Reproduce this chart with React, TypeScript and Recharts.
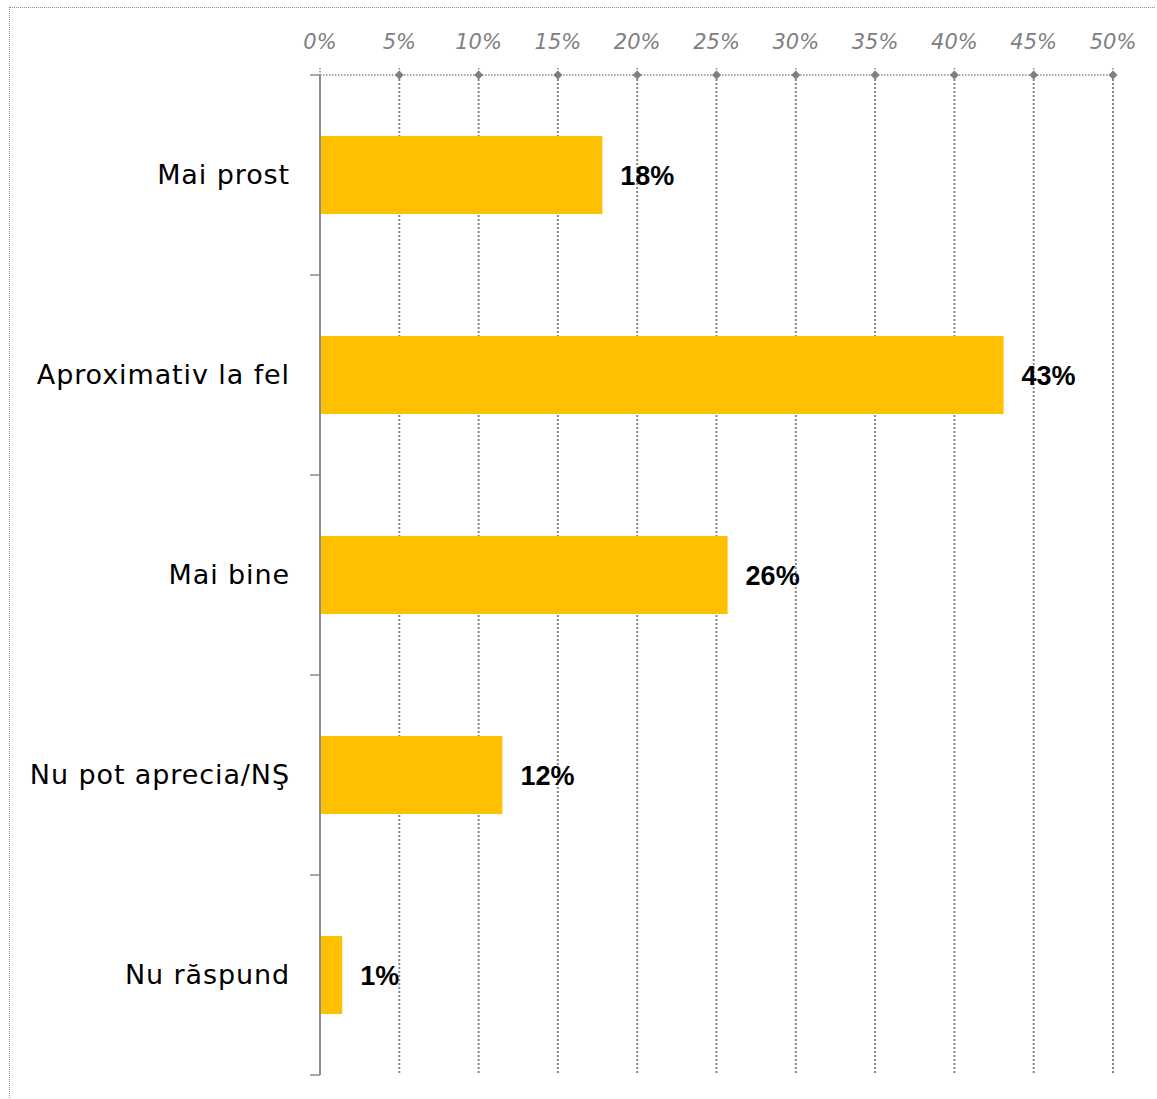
import React from "react";
import { BarChart, Bar, XAxis, YAxis, CartesianGrid, LabelList } from "recharts";

const CATEGORIES = ["Mai prost", "Aproximativ la fel", "Mai bine", "Nu pot aprecia/NŞ", "Nu răspund"];
const VALUES = [17.8, 43.1, 25.7, 11.5, 1.4];
const VALUE_LABELS = ["18%", "43%", "26%", "12%", "1%"];
const X_TICKS = [0, 5, 10, 15, 20, 25, 30, 35, 40, 45, 50];

const data = CATEGORIES.map((name, i) => ({ name, value: VALUES[i], label: VALUE_LABELS[i] }));

const GREY = "#8c8c8c";

// top axis tick: little dotted stub, diamond marker, italic label
const TopTick = (props: any) => {
  const { x, y, payload } = props;
  const v = payload.value;
  return (
    <g>
      <line x1={x} x2={x} y1={y - 7} y2={y} stroke={GREY} strokeWidth={1.5} strokeDasharray="1.5 1.5" />
      {v > 0 && (
        <path d={`M${x} ${y - 4.5}L${x + 4.5} ${y}L${x} ${y + 4.5}L${x - 4.5} ${y}Z`} fill="#7f7f7f" />
      )}
      <text x={x} y={y - 26} textAnchor="middle" fill="#808080"
        style={{ fontFamily: "DejaVu Sans", fontSize: 21, fontStyle: "italic" }}>
        {v}%
      </text>
    </g>
  );
};

// category label + tick marks at band edges
const LeftTick = (props: any) => {
  const { x, y, payload, index } = props;
  const half = 100;
  return (
    <g>
      <line x1={x + 20} x2={x + 30} y1={y - half} y2={y - half} stroke={GREY} strokeWidth={1.5} />
      {index === CATEGORIES.length - 1 && (
        <line x1={x + 20} x2={x + 30} y1={y + half} y2={y + half} stroke={GREY} strokeWidth={1.5} />
      )}
      <text x={x} y={y} dy={9} textAnchor="end" fill="#000"
        style={{ fontFamily: "DejaVu Sans", fontSize: 27, letterSpacing: 0.9 }}>
        {payload.value}
      </text>
    </g>
  );
};

export default function App() {
  return (
    <div style={{
      position: "absolute", left: 9, top: 7, width: 1146, height: 1091,
      boxSizing: "border-box", borderTop: `1px dotted ${GREY}`, borderLeft: `1px dotted ${GREY}`,
      background: "#fff",
    }}>
      <BarChart width={1145} height={1090} data={data} layout="vertical"
        margin={{ top: 0, right: 42, bottom: 23, left: 0 }}>
        <CartesianGrid horizontal={false} stroke="#858585" strokeWidth={2} strokeDasharray="2 2" />
        <XAxis type="number" orientation="top" domain={[0, 50]} ticks={X_TICKS} height={67}
          axisLine={{ stroke: GREY, strokeWidth: 1.5, strokeDasharray: "1.5 1.5" }}
          tickLine={false} tickSize={0} tickMargin={0} tick={<TopTick />} interval={0} />
        <YAxis type="category" dataKey="name" width={310}
          axisLine={{ stroke: GREY, strokeWidth: 2 }}
          tickLine={false} tickSize={0} tickMargin={30} tick={<LeftTick />} interval={0} />
        <Bar dataKey="value" fill="#FFC000" barSize={78} isAnimationActive={false}>
          <LabelList dataKey="label" position="right" offset={18} fill="#000"
            style={{ fontFamily: "Liberation Sans", fontSize: 27, fontWeight: "bold" }} />
        </Bar>
      </BarChart>
    </div>
  );
}
